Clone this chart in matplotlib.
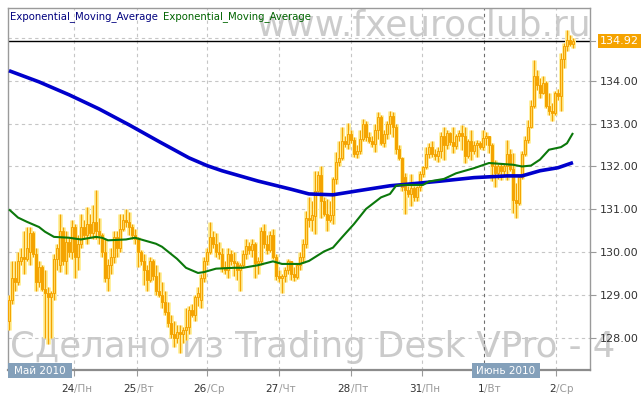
import matplotlib
matplotlib.use('Agg')
import matplotlib.pyplot as plt
import matplotlib.patheffects as pe
from matplotlib.patches import Rectangle
from matplotlib.transforms import blended_transform_factory
import numpy as np

# ---------------- data ----------------
open_ = [128.4, 128.9, 129.4, 129.3, 129.8, 129.9, 129.85, 130.0, 130.45, 129.95,
         129.3, 129.65, 129.15, 129.05, 128.95, 129.05, 129.85, 129.7, 130.5, 129.8,
         130.25, 130.0, 130.6, 129.9, 130.2, 130.6, 130.4, 130.65, 130.45, 130.7,
         130.5, 130.4, 130.0, 129.4, 129.7, 129.9, 130.35, 130.1, 130.55, 130.75,
         130.7, 130.6, 130.4, 130.3, 130.0, 129.8, 129.6, 129.35, 129.8, 129.45,
         129.1, 129.0, 128.85, 128.6, 128.35, 128.1, 128.0, 128.15, 128.1, 128.2,
         128.25, 128.65, 128.55, 128.95, 128.9, 129.4, 129.8, 130.0, 130.35, 130.2,
         130.0, 129.95, 129.65, 129.6, 129.95, 129.8, 129.75, 129.6, 129.7, 129.95,
         130.15, 130.05, 130.2, 129.75, 129.8, 130.5, 130.2, 130.05, 130.4, 129.9,
         129.45, 129.4, 129.45, 129.6, 129.8, 129.5, 129.42, 129.7, 129.9, 130.2,
         130.8, 130.75, 130.85, 131.44, 131.8, 131.2, 130.9, 130.75, 130.88, 131.7,
         132.1, 132.2, 132.6, 132.53, 132.76, 132.62, 132.3, 132.36, 132.65, 132.99,
         132.68, 132.6, 132.53, 132.84, 133.15, 132.55, 132.76, 132.99, 133.18, 132.92,
         132.4, 132.2, 131.75, 131.45, 131.36, 131.5, 131.28, 131.51, 131.82, 131.98,
         132.29, 132.45, 132.3, 132.25, 132.35, 132.7, 132.5, 132.78, 132.58, 132.47,
         132.7, 132.78, 132.72, 132.25, 132.6, 132.35, 132.5, 132.55, 132.45, 132.66,
         132.7, 132.5, 132.0, 131.84, 132.0, 131.9, 132.0, 132.3, 131.95, 131.22,
         131.15, 131.75, 132.3, 132.62, 132.93, 133.4, 134.1, 133.9, 133.7, 133.95,
         133.4, 133.3, 133.25, 133.7, 133.65, 134.5, 134.8, 134.95, 134.85]

high = [129.0, 129.8, 129.8, 130.0, 130.1, 130.5, 130.6, 130.6, 130.5, 130.1,
        129.8, 129.7, 129.6, 129.2, 129.1, 129.95, 130.2, 130.9, 130.6, 130.5,
        130.35, 130.75, 130.65, 130.4, 130.9, 130.75, 131.05, 130.9, 131.1, 131.45,
        130.8, 130.45, 130.3, 129.85, 130.1, 130.5, 130.5, 130.9, 130.9, 131.0,
        130.95, 130.65, 130.55, 130.35, 130.05, 129.95, 129.7, 129.9, 129.85, 129.7,
        129.55, 129.3, 129.1, 128.85, 128.55, 128.4, 128.3, 128.3, 128.25, 128.7,
        128.75, 128.8, 129.0, 129.2, 129.5, 129.9, 130.1, 130.7, 130.5, 130.45,
        130.25, 130.1, 129.8, 130.1, 130.05, 130.0, 129.8, 129.75, 130.05, 130.3,
        130.25, 130.3, 130.25, 129.9, 130.6, 130.65, 130.4, 130.5, 130.55, 129.95,
        129.6, 129.5, 129.65, 129.85, 129.8, 129.65, 129.75, 130.0, 130.3, 130.97,
        131.28, 131.2, 131.9, 131.9, 132.0, 131.3, 131.25, 131.2, 131.75, 132.33,
        132.6, 132.91, 132.7, 133.02, 132.85, 132.68, 132.5, 132.84, 133.1, 133.05,
        132.8, 132.7, 132.99, 133.26, 133.2, 132.84, 133.05, 133.3, 133.27, 133.0,
        132.5, 132.21, 131.85, 131.55, 131.82, 131.55, 131.55, 131.9, 132.0, 132.45,
        132.55, 132.6, 132.4, 132.45, 132.8, 132.93, 132.85, 132.8, 132.93, 132.75,
        132.85, 132.97, 132.93, 132.65, 132.85, 132.6, 132.62, 132.6, 132.85, 132.8,
        132.72, 132.54, 132.16, 132.05, 132.08, 132.05, 132.62, 132.4, 132.31, 131.61,
        131.8, 132.35, 132.7, 133.09, 133.55, 134.48, 134.25, 134.05, 134.1, 133.98,
        133.71, 133.47, 133.75, 133.8, 134.64, 134.87, 135.18, 135.05, 135.0]

low = [128.2, 128.8, 129.1, 129.25, 129.7, 129.5, 129.8, 129.7, 129.9, 129.1,
       129.2, 129.1, 128.0, 127.86, 128.0, 128.9, 129.6, 129.55, 129.7, 129.5,
       129.9, 129.85, 129.4, 129.6, 130.1, 130.3, 130.2, 130.35, 130.3, 130.3,
       130.2, 129.9, 129.3, 129.1, 129.5, 129.75, 129.9, 130.0, 130.5, 130.6,
       130.4, 130.3, 130.2, 129.65, 129.7, 129.25, 129.1, 129.3, 129.35, 129.0,
       128.95, 128.7, 128.55, 128.25, 128.0, 127.8, 127.9, 127.66, 127.9, 127.95,
       128.1, 128.5, 128.4, 128.75, 128.7, 129.3, 129.7, 129.95, 130.1, 129.9,
       129.85, 129.55, 129.5, 129.4, 129.7, 129.45, 129.35, 129.1, 129.65, 129.85,
       129.95, 129.9, 129.4, 129.5, 129.7, 130.1, 129.95, 130.0, 129.85, 129.35,
       129.3, 129.05, 129.3, 129.5, 129.35, 129.33, 129.38, 129.6, 129.75, 130.1,
       130.58, 130.5, 130.42, 131.4, 130.8, 130.85, 130.5, 130.7, 130.66, 131.6,
       132.0, 132.15, 132.45, 132.4, 132.55, 132.21, 132.2, 132.3, 132.6, 132.6,
       132.55, 132.45, 132.33, 132.64, 132.5, 132.45, 132.65, 132.76, 132.68, 132.3,
       132.14, 131.44, 130.89, 131.3, 131.09, 131.2, 131.2, 131.44, 131.75, 131.95,
       132.2, 132.21, 132.15, 132.1, 132.2, 132.16, 132.4, 132.5, 132.31, 132.4,
       132.6, 132.39, 132.08, 132.2, 132.16, 132.3, 132.23, 132.4, 132.39, 132.5,
       132.31, 131.65, 131.53, 131.7, 131.69, 131.8, 131.69, 131.9, 130.91, 130.8,
       131.1, 131.7, 132.25, 132.54, 132.9, 133.35, 133.78, 133.6, 133.68, 133.35,
       133.2, 133.05, 133.2, 133.55, 133.3, 134.3, 134.7, 134.8, 134.75]

close_ = [128.9, 129.4, 129.3, 129.8, 129.9, 129.85, 130.1, 130.45, 129.95, 129.3,
          129.65, 129.15, 129.05, 128.95, 129.05, 129.85, 130.1, 130.5, 129.8, 130.25,
          130.0, 130.6, 129.9, 130.2, 130.6, 130.4, 130.65, 130.45, 130.7, 130.5,
          130.4, 130.0, 129.4, 129.7, 129.9, 130.35, 130.1, 130.55, 130.75, 130.7,
          130.6, 130.4, 130.3, 130.0, 129.8, 129.6, 129.35, 129.8, 129.45, 129.1,
          129.0, 128.85, 128.6, 128.35, 128.1, 128.0, 128.15, 128.1, 128.2, 128.25,
          128.65, 128.55, 128.95, 129.05, 129.4, 129.8, 130.0, 130.35, 130.2, 130.0,
          129.95, 129.65, 129.6, 129.95, 129.8, 129.75, 129.6, 129.7, 129.95, 130.15,
          130.05, 130.2, 129.75, 129.8, 130.5, 130.2, 130.05, 130.4, 129.9, 129.45,
          129.4, 129.45, 129.6, 129.8, 129.5, 129.42, 129.7, 129.9, 130.2, 130.8,
          130.75, 130.88, 131.44, 131.8, 131.2, 130.9, 130.75, 130.88, 131.7, 132.1,
          132.2, 132.6, 132.53, 132.76, 132.62, 132.3, 132.36, 132.65, 132.99, 132.68,
          132.6, 132.53, 132.84, 133.15, 132.55, 132.76, 132.99, 133.18, 132.92, 132.4,
          132.2, 131.51, 131.45, 131.36, 131.5, 131.28, 131.51, 131.82, 131.98, 132.29,
          132.45, 132.3, 132.25, 132.35, 132.7, 132.5, 132.78, 132.58, 132.47, 132.7,
          132.78, 132.72, 132.25, 132.6, 132.35, 132.5, 132.55, 132.45, 132.66, 132.7,
          132.5, 132.0, 131.84, 132.0, 131.9, 132.0, 132.3, 131.95, 131.22, 131.15,
          131.75, 132.3, 132.62, 132.93, 133.4, 134.1, 133.9, 133.7, 133.95, 133.4,
          133.3, 133.25, 133.7, 133.65, 134.5, 134.8, 134.95, 134.85, 134.92]

# long EMA (blue) read at bar indices
ema_blue_bar = [0, 10, 20, 30, 40, 50, 60, 66, 71, 83, 94, 100, 108, 116, 127, 138,
                144, 155, 166, 171, 177, 183, 188]
ema_blue = [134.23, 133.97, 133.67, 133.34, 132.97, 132.58, 132.20, 132.02, 131.90,
            131.66, 131.47, 131.36, 131.34, 131.43, 131.55, 131.62, 131.66, 131.74,
            131.78, 131.78, 131.90, 131.97, 132.09]

# short EMA (green)
ema_green_bar = [0, 3, 6, 10, 12, 15, 20, 24, 29, 31, 33, 39, 42, 45, 49, 51, 56, 59,
                 63, 65, 69, 75, 78, 83, 88, 91, 97, 100, 105, 108, 111, 115, 119, 124,
                 127, 129, 131, 138, 140, 145, 149, 155, 160, 164, 168, 171, 174, 177,
                 180, 184, 186, 188]
ema_green = [131.0, 130.81, 130.71, 130.59, 130.48, 130.36, 130.34, 130.30, 130.36,
             130.34, 130.28, 130.30, 130.34, 130.28, 130.20, 130.13, 129.85, 129.64,
             129.52, 129.54, 129.62, 129.64, 129.64, 129.70, 129.79, 129.73, 129.73,
             129.80, 130.02, 130.11, 130.35, 130.66, 131.01, 131.28, 131.36, 131.55,
             131.57, 131.57, 131.65, 131.71, 131.84, 131.96, 132.08, 132.06, 132.04,
             132.00, 132.02, 132.16, 132.39, 132.45, 132.54, 132.78]

last_price = 134.92
y_ticks = [128, 129, 130, 131, 132, 133, 134]
grid_levels = [128, 129, 130, 131, 132, 133, 134, 135]

day_bars = [21.67, 42.67, 66.0, 90.0, 114.0, 137.67, 158.33, 182.33]
day_nums = ['24', '25', '26', '27', '28', '31', '1', '2']
day_names = ['/Пн', '/Вт', '/Ср', '/Чт', '/Пт', '/Пн', '/Вт', '/Ср']
month_start_bar = 158.33
month_labels = ['Май 2010', 'Июнь 2010']
legend_names = ['Exponential_Moving_Average', 'Exponential_Moving_Average']

# ---------------- figure ----------------
W, H = 644, 400
fig = plt.figure(figsize=(6.44, 4.0), dpi=100)
fig.patch.set_facecolor('white')


def fx(x):
    return x / W


def fy(y):
    return 1 - y / H


L, R, T, B = 8, 590, 8, 370
ax = fig.add_axes([fx(L), fy(B), (R - L) / W, (B - T) / H])
ax.set_facecolor('none')
ax.set_xlim(-0.33, 193.67)
ax.set_ylim(127.26, 135.69)

# watermarks (behind axes content)
wm = '#cbcbcb'
fig.text(fx(257), fy(35), 'www.fxeuroclub.ru', fontsize=25.8, color=wm,
         ha='left', va='baseline', zorder=-5, family='DejaVu Sans')
fig.text(fx(10), fy(357), 'Сделано из Trading Desk VPro - 4', fontsize=25.6, color=wm,
         ha='left', va='baseline', zorder=-5, family='DejaVu Sans')

# grid
for g in grid_levels:
    ax.axhline(g, color='#c6c6c6', lw=0.8, ls=(0, (3, 3)), zorder=1)
for d in day_bars:
    col = '#6e6e6e' if d == month_start_bar else '#c6c6c6'
    ax.axvline(d, color=col, lw=0.8, ls=(0, (3, 3)), zorder=1)

# last price line
ax.axhline(last_price, color='black', lw=1.0, zorder=2)

# candles
x = np.arange(len(close_))
o = np.array(open_)
c = np.array(close_)
h = np.array(high)
lo = np.array(low)
up = c >= o
orange = '#f4a300'
glow = [pe.withStroke(linewidth=3.6, foreground='#fff0a0')]
ax.vlines(x, lo, h, color=orange, lw=1.0, zorder=3, path_effects=glow)
bot = np.minimum(o, c)
bh = np.maximum(np.abs(c - o), 0.025)
ax.bar(x[up], bh[up], bottom=bot[up], width=0.72, facecolor='#ffd45e',
       edgecolor=orange, lw=0.7, zorder=4)
ax.bar(x[~up], bh[~up], bottom=bot[~up], width=0.72, facecolor=orange,
       edgecolor=orange, lw=0.7, zorder=4)

# EMAs
ax.plot(ema_blue_bar, ema_blue, color='#0000cc', lw=2.6, zorder=5,
        solid_capstyle='butt', solid_joinstyle='round')
ax.plot(ema_green_bar, ema_green, color='#0b780b', lw=1.5, zorder=6,
        solid_capstyle='butt', solid_joinstyle='round')

# spines
for s in ['left', 'top', 'right']:
    ax.spines[s].set_color('#9a9a9a')
    ax.spines[s].set_linewidth(1.0)
ax.spines['bottom'].set_color('#8c8c8c')
ax.spines['bottom'].set_linewidth(1.6)

# y axis on right
ax.yaxis.tick_right()
ax.set_yticks(y_ticks)
ax.set_yticklabels(['%.2f' % v for v in y_ticks])
ax.tick_params(axis='y', which='both', left=False, right=True, length=4, width=0.8,
               color='#9a9a9a', labelsize=8, labelcolor='#333333', pad=3)

# x axis ticks
ax.set_xticks(day_bars)
ax.set_xticklabels([])
ax.tick_params(axis='x', length=4, width=0.8, color='#9a9a9a', direction='out')

tr = blended_transform_factory(ax.transData, fig.transFigure)
for d, n, w in zip(day_bars, day_nums, day_names):
    ax.text(d, fy(392), n, transform=tr, ha='right', va='baseline', fontsize=7.5,
            color='#333333', clip_on=False)
    ax.text(d, fy(392), w, transform=tr, ha='left', va='baseline', fontsize=7.5,
            color='#9a9a9a', clip_on=False)

# last price label
ty = blended_transform_factory(ax.transAxes, ax.transData)
ax.plot([1.0, 1.008], [last_price, last_price], transform=ty, color='#9a9a9a',
        lw=0.8, clip_on=False)
ax.text(1.0 + 9.5 / (R - L), last_price, '%.2f' % last_price, transform=ty,
        ha='left', va='center', fontsize=8, color='white', zorder=10,
        bbox=dict(boxstyle='square,pad=0.18', fc='#f5a300', ec='none'))

# month boxes
box_col = '#84a0ba'
for (x0, x1), lab in zip([(8, 72), (472, 540)], month_labels):
    fig.add_artist(Rectangle((fx(x0), fy(378)), (x1 - x0) / W, 15 / H,
                             transform=fig.transFigure, facecolor=box_col,
                             edgecolor='none', zorder=10))
    fig.text(fx((x0 + x1) / 2), fy(370.5), lab, ha='center', va='center',
             fontsize=7.5, color='white', zorder=11)

# legend labels
fig.text(fx(10), fy(19), legend_names[0], color='#00007f', fontsize=7.3,
         ha='left', va='baseline', zorder=12)
fig.text(fx(163), fy(19), legend_names[1], color='#006400', fontsize=7.3,
         ha='left', va='baseline', zorder=12)

fig.savefig('out.png', dpi=100, facecolor='white')
